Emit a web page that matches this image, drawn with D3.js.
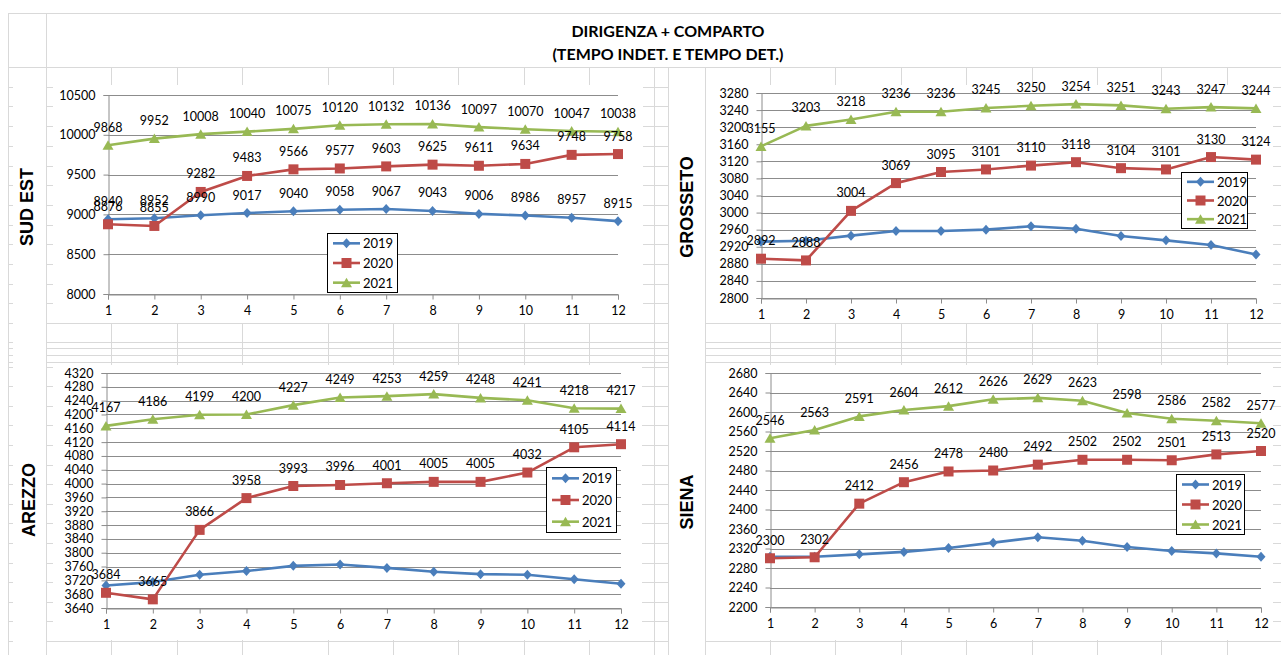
<!DOCTYPE html>
<html>
<head>
<meta charset="utf-8">
<script src="https://cdn.jsdelivr.net/npm/d3@7"></script>
<style>
  body { margin: 0; background: #fff; }
  svg { display: block; }
  text { font-family: Lato, "Open Sans", sans-serif; }
</style>
</head>
<body>
<div id="chart"></div>
<script>
// months on the x axis
const months = [1, 2, 3, 4, 5, 6, 7, 8, 9, 10, 11, 12];
const years = ['2019', '2020', '2021'];

// SUD EST
const sudEst2019 = [8940, 8952, 8990, 9017, 9040, 9058, 9067, 9043, 9006, 8986, 8957, 8915];
const sudEst2020 = [8876, 8855, 9282, 9483, 9566, 9577, 9603, 9625, 9611, 9634, 9748, 9758];
const sudEst2021 = [9868, 9952, 10008, 10040, 10075, 10120, 10132, 10136, 10097, 10070, 10047, 10038];

// GROSSETO (2019 has no labels)
const grosseto2019 = [2932, 2934, 2946, 2957, 2957, 2960, 2968, 2962, 2945, 2935, 2924, 2902];
const grosseto2020 = [2892, 2888, 3004, 3069, 3095, 3101, 3110, 3118, 3104, 3101, 3130, 3124];
const grosseto2021 = [3155, 3203, 3218, 3236, 3236, 3245, 3250, 3254, 3251, 3243, 3247, 3244];

// AREZZO
const arezzo2019 = [3705, 3715, 3736, 3747, 3762, 3766, 3756, 3745, 3738, 3736, 3723, 3710];
const arezzo2020 = [3684, 3665, 3866, 3958, 3993, 3996, 4001, 4005, 4005, 4032, 4105, 4114];
const arezzo2021 = [4167, 4186, 4199, 4200, 4227, 4249, 4253, 4259, 4248, 4241, 4218, 4217];

// SIENA
const siena2019 = [2303, 2303, 2308, 2313, 2321, 2332, 2343, 2336, 2323, 2315, 2310, 2303];
const siena2020 = [2300, 2302, 2412, 2456, 2478, 2480, 2492, 2502, 2502, 2501, 2513, 2520];
const siena2021 = [2546, 2563, 2591, 2604, 2612, 2626, 2629, 2623, 2598, 2586, 2582, 2577];

const titleLines = ['DIRIGENZA + COMPARTO', '(TEMPO INDET. E TEMPO DET.)'];

const colors = ['#4a7ebb', '#be4b48', '#98b954'];
const W = 1281, H = 655;

const panels = [
  { name: 'SUD EST', series: [sudEst2019, sudEst2020, sudEst2021], labelled: [true, true, true],
    domain: [8000, 10500], step: 500,
    plot: { x0: 108, x1: 618, y0: 95, y1: 294 },
    box: { x: 53, y: 85, w: 590, h: 238 },
    legend: { x: 327, y: 233, w: 70, h: 59 },
    title: { x: 27, y: 207 } },
  { name: 'GROSSETO', series: [grosseto2019, grosseto2020, grosseto2021], labelled: [false, true, true],
    domain: [2800, 3280], step: 40,
    plot: { x0: 761, x1: 1256, y0: 93, y1: 298 },
    box: { x: 706, y: 85, w: 567, h: 238 },
    legend: { x: 1181, y: 172, w: 66, h: 56 },
    title: { x: 687, y: 207 } },
  { name: 'AREZZO', series: [arezzo2019, arezzo2020, arezzo2021], labelled: [false, true, true],
    domain: [3640, 4320], step: 40,
    plot: { x0: 106, x1: 621, y0: 373, y1: 608 },
    box: { x: 53, y: 365, w: 589, h: 275 },
    legend: { x: 546, y: 467, w: 70, h: 65 },
    title: { x: 29, y: 500 } },
  { name: 'SIENA', series: [siena2019, siena2020, siena2021], labelled: [false, true, true],
    domain: [2200, 2680], step: 40,
    plot: { x0: 770, x1: 1261, y0: 373, y1: 607 },
    box: { x: 706, y: 365, w: 567, h: 275 },
    legend: { x: 1176, y: 474, w: 68, h: 60 },
    title: { x: 687, y: 502 } }
];

const svg = d3.select('#chart').append('svg')
  .attr('width', W)
  .attr('height', H);

// spreadsheet cells behind the charts
const cols = [8, 46, 111, 177, 242, 328, 393, 458, 524, 589, 654, 668, 705, 770, 835, 901, 966, 1032, 1097, 1161, 1227];
const rows = [13, 67];
for (let i = 1; i <= 13; i++) rows.push(67 + i * 19.7);
rows.push(342, 348, 355, 362);
for (let i = 0; i <= 14; i++) rows.push(366.5 + i * 19.6);

const grid = svg.append('g').attr('stroke', '#d9d9d9').attr('shape-rendering', 'crispEdges');
cols.forEach(x => grid.append('line').attr('x1', x + 0.5).attr('x2', x + 0.5).attr('y1', 13).attr('y2', H));
rows.forEach(y => grid.append('line').attr('x1', 8).attr('x2', W).attr('y1', Math.round(y) + 0.5).attr('y2', Math.round(y) + 0.5));

// merged cells: title and the side labels
svg.append('rect').attr('x', 47).attr('y', 14).attr('width', W - 47).attr('height', 53).attr('fill', '#fff');
svg.append('rect').attr('x', 13).attr('y', 68).attr('width', 33).attr('height', H - 68).attr('fill', '#fff');
svg.append('rect').attr('x', 669).attr('y', 68).attr('width', 36).attr('height', H - 68).attr('fill', '#fff');

titleLines.forEach((t, i) => {
  svg.append('text')
    .attr('x', 668)
    .attr('y', 30 + i * 23)
    .attr('text-anchor', 'middle')
    .attr('dominant-baseline', 'central')
    .style('font-size', '16px')
    .style('font-weight', 'bold')
    .text(t);
});

function markerPath(i) {
  if (i === 0) return 'M0,-5L4.5,0L0,5L-4.5,0Z';
  if (i === 1) return 'M-5,-5H5V5H-5Z';
  return 'M0,-5L5.5,4.5H-5.5Z';
}

panels.forEach(p => {
  const g = svg.append('g');

  g.append('rect')
    .attr('x', p.box.x).attr('y', p.box.y)
    .attr('width', p.box.w).attr('height', p.box.h)
    .attr('fill', '#fff');

  const x = d3.scalePoint().domain(months).range([p.plot.x0, p.plot.x1]);
  const y = d3.scaleLinear().domain(p.domain).range([p.plot.y1, p.plot.y0]);
  const ticks = d3.range(p.domain[0], p.domain[1] + 1, p.step);

  // horizontal gridlines
  g.append('g')
    .selectAll('line')
    .data(ticks)
    .join('line')
    .attr('x1', p.plot.x0).attr('x2', p.plot.x1)
    .attr('y1', d => Math.round(y(d)) + 0.5).attr('y2', d => Math.round(y(d)) + 0.5)
    .attr('stroke', '#8c8c8c')
    .attr('shape-rendering', 'crispEdges');

  const yAxis = g.append('g')
    .attr('transform', `translate(${p.plot.x0 + 0.5},0)`)
    .call(d3.axisLeft(y).tickValues(ticks).tickSize(5).tickPadding(8).tickFormat(d3.format('d')));
  const xAxis = g.append('g')
    .attr('transform', `translate(0,${Math.round(p.plot.y1) + 0.5})`)
    .call(d3.axisBottom(x).tickSize(5).tickPadding(7));

  [yAxis, xAxis].forEach(a => {
    a.select('.domain').attr('stroke', '#8c8c8c');
    a.selectAll('.tick line').attr('stroke', '#8c8c8c');
    a.selectAll('.tick text').attr('fill', '#000').style('font-size', '12.5px').style('font-family', 'Lato, sans-serif');
  });

  const line = d3.line().x((d, i) => x(months[i])).y(d => y(d));

  p.series.forEach((vals, si) => {
    g.append('path')
      .datum(vals)
      .attr('fill', 'none')
      .attr('stroke', colors[si])
      .attr('stroke-width', 2.6)
      .attr('stroke-linejoin', 'round')
      .attr('d', line);

    g.append('g')
      .selectAll('path')
      .data(vals)
      .join('path')
      .attr('transform', (d, i) => `translate(${x(months[i])},${y(d)})`)
      .attr('d', markerPath(si))
      .attr('fill', colors[si]);
  });

  // data labels drawn after all lines
  p.series.forEach((vals, si) => {
    if (!p.labelled[si]) return;
    g.append('g')
      .selectAll('text')
      .data(vals)
      .join('text')
      .attr('x', (d, i) => x(months[i]))
      .attr('y', d => y(d) - 18)
      .attr('text-anchor', 'middle')
      .attr('dominant-baseline', 'central')
      .style('font-size', '12.5px')
      .text(d => d);
  });

  // legend
  const lg = g.append('g').attr('transform', `translate(${p.legend.x},${p.legend.y})`);
  lg.append('rect')
    .attr('x', 0.5).attr('y', 0.5)
    .attr('width', p.legend.w).attr('height', p.legend.h)
    .attr('fill', '#fff')
    .attr('stroke', '#000');
  const rowH = p.legend.h / 3;
  years.forEach((yr, i) => {
    const cy = rowH * (i + 0.5) + 0.5;
    lg.append('line')
      .attr('x1', 6).attr('x2', 33)
      .attr('y1', cy).attr('y2', cy)
      .attr('stroke', colors[i]).attr('stroke-width', 2.6);
    lg.append('path')
      .attr('transform', `translate(19.5,${cy})`)
      .attr('d', markerPath(i))
      .attr('fill', colors[i]);
    lg.append('text')
      .attr('x', 36).attr('y', cy)
      .attr('dominant-baseline', 'central')
      .style('font-size', '13px')
      .text(yr);
  });

  // side label in its merged cell
  svg.append('text')
    .attr('transform', `translate(${p.title.x},${p.title.y}) rotate(-90)`)
    .attr('text-anchor', 'middle')
    .attr('dominant-baseline', 'central')
    .style('font-family', '"Liberation Sans", Arial, sans-serif')
    .style('font-size', '18px')
    .style('font-weight', 'bold')
    .text(p.name);
});
</script>
</body>
</html>
